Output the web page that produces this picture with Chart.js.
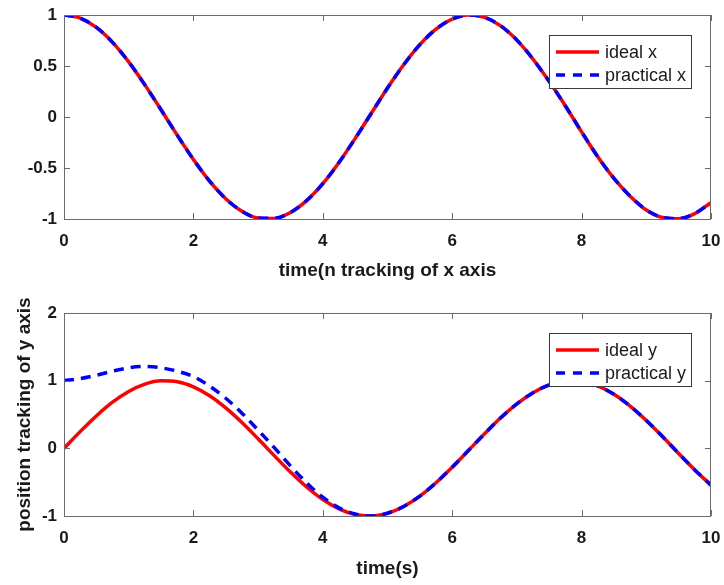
<!DOCTYPE html>
<html>
<head>
<meta charset="utf-8">
<script src="https://cdn.jsdelivr.net/npm/chart.js@4/dist/chart.umd.min.js"></script>
<style>
    html, body { margin: 0; padding: 0; background: #fff; }
    #wrap { position: relative; width: 724px; height: 585px; }
    canvas { position: absolute; left: 0; }
    #top-chart { top: 0; }
    #bottom-chart { top: 292px; }
</style>
</head>
<body>
<div id="wrap">
    <canvas id="top-chart" width="724" height="292"></canvas>
    <canvas id="bottom-chart" width="724" height="293"></canvas>
</div>
<script>
// time samples (s)
const timeVals = [0, 0.25, 0.5, 0.75, 1, 1.25, 1.5, 1.75, 2, 2.25, 2.5, 2.75, 3, 3.25, 3.5, 3.75, 4, 4.25, 4.5, 4.75,
    5, 5.25, 5.5, 5.75, 6, 6.25, 6.5, 6.75, 7, 7.25, 7.5, 7.75, 8, 8.25, 8.5, 8.75, 9, 9.25, 9.5, 9.75, 10];

const idealX = [1, 0.969, 0.878, 0.732, 0.540, 0.315, 0.071, -0.178, -0.416, -0.628, -0.801, -0.924, -0.990, -0.994,
    -0.936, -0.820, -0.654, -0.446, -0.211, 0.037, 0.284, 0.512, 0.709, 0.861, 0.960, 0.999, 0.977, 0.894, 0.754,
    0.566, 0.347, 0.108, -0.146, -0.390, -0.602, -0.776, -0.911, -0.985, -0.997, -0.947, -0.839];
const practicalX = [1, 0.969, 0.878, 0.732, 0.540, 0.315, 0.071, -0.178, -0.416, -0.628, -0.801, -0.924, -0.990, -0.994,
    -0.936, -0.820, -0.654, -0.446, -0.211, 0.037, 0.284, 0.512, 0.709, 0.861, 0.960, 0.999, 0.977, 0.894, 0.754,
    0.566, 0.347, 0.108, -0.146, -0.390, -0.602, -0.776, -0.911, -0.985, -0.997, -0.947, -0.839];

const idealY = [0, 0.247, 0.479, 0.682, 0.841, 0.949, 0.997, 0.984, 0.909, 0.778, 0.598, 0.382, 0.141, -0.108,
    -0.351, -0.572, -0.757, -0.895, -0.978, -0.999, -0.959, -0.859, -0.706, -0.508, -0.279, -0.033, 0.215, 0.451,
    0.657, 0.823, 0.938, 0.994, 0.989, 0.923, 0.798, 0.624, 0.412, 0.174, -0.075, -0.319, -0.544];
const practicalY = [1.00, 1.03, 1.08, 1.14, 1.19, 1.21, 1.19, 1.14, 1.06, 0.92, 0.74, 0.52, 0.27, 0.01,
    -0.26, -0.51, -0.72, -0.88, -0.97, -1.0, -0.959, -0.859, -0.706, -0.508, -0.279, -0.033, 0.215, 0.451,
    0.657, 0.823, 0.938, 0.994, 0.989, 0.923, 0.798, 0.624, 0.412, 0.174, -0.075, -0.319, -0.544];

const legendTop = ['ideal x', 'practical x'];
const legendBottom = ['ideal y', 'practical y'];

const RED = '#ff0000';
const BLUE = '#0000ff';
const DASH = [10, 7];
const BOX = '#6b6b6b';
const TXT = '#1a1a1a';

function points(ys) {
    return timeVals.map((t, i) => ({ x: t, y: ys[i] }));
}

// matlab style box with inward ticks + legend inside the axes
const boxPlugin = {
    id: 'box',
    afterDraw(chart, args, opts) {
        const ctx = chart.ctx;
        const a = chart.chartArea;
        const xs = chart.scales.x, ys = chart.scales.y;
        ctx.save();
        ctx.strokeStyle = BOX;
        ctx.lineWidth = 1;
        ctx.strokeRect(a.left + 0.5, a.top + 0.5, a.right - a.left - 1, a.bottom - a.top);
        ctx.beginPath();
        xs.ticks.forEach(t => {
            const px = Math.round(xs.getPixelForValue(t.value)) + 0.5;
            ctx.moveTo(px, a.bottom); ctx.lineTo(px, a.bottom - 6);
            ctx.moveTo(px, a.top); ctx.lineTo(px, a.top + 6);
        });
        ys.ticks.forEach(t => {
            const py = Math.round(ys.getPixelForValue(t.value)) + 0.5;
            ctx.moveTo(a.left, py); ctx.lineTo(a.left + 6, py);
            ctx.moveTo(a.right, py); ctx.lineTo(a.right - 6, py);
        });
        ctx.stroke();

        // legend
        const lx = a.right - 162, ly = a.top + 20, lw = 142, lh = 53;
        ctx.fillStyle = '#fff';
        ctx.fillRect(lx, ly, lw, lh);
        ctx.strokeStyle = '#3a3a3a';
        ctx.strokeRect(lx + 0.5, ly + 0.5, lw, lh);
        const labels = opts.labels;
        ctx.font = '18px "Liberation Sans", Arial, sans-serif';
        ctx.textBaseline = 'middle';
        ctx.lineWidth = 3.5;
        labels.forEach((lab, i) => {
            const ry = ly + 17 + i * 23;
            ctx.strokeStyle = i === 0 ? RED : BLUE;
            ctx.setLineDash(i === 0 ? [] : [9, 8]);
            ctx.beginPath();
            ctx.moveTo(lx + 7, ry); ctx.lineTo(lx + 50, ry);
            ctx.stroke();
            ctx.setLineDash([]);
            ctx.fillStyle = TXT;
            ctx.fillText(lab, lx + 56, ry + 1);
        });
        ctx.restore();
    }
};

function makeChart(canvasId, ideal, practical, cfg) {
    const ctx = document.getElementById(canvasId).getContext('2d');
    return new Chart(ctx, {
        type: 'line',
        data: {
            datasets: [
                { data: points(ideal), borderColor: RED, borderWidth: 3.5, pointRadius: 0, order: 2,
                  cubicInterpolationMode: 'monotone' },
                { data: points(practical), borderColor: BLUE, borderWidth: 3.5, borderDash: DASH, pointRadius: 0, order: 1,
                  cubicInterpolationMode: 'monotone' }
            ]
        },
        options: {
            responsive: false,
            animation: false,
            devicePixelRatio: 1,
            layout: { padding: { top: cfg.padTop, right: 13, left: 0, bottom: 0 } },
            plugins: {
                legend: { display: false },
                tooltip: { enabled: false },
                box: { labels: cfg.labels }
            },
            scales: {
                x: {
                    type: 'linear', min: 0, max: 10,
                    ticks: { stepSize: 2, color: TXT, padding: 12, maxRotation: 0,
                        font: { family: '"Liberation Sans", Arial', size: 17, weight: 'bold' } },
                    grid: { display: false, drawTicks: false },
                    border: { display: false },
                    title: { display: true, text: cfg.xTitle, color: TXT, padding: { top: 0, bottom: cfg.xTitlePad },
                        font: { family: '"Liberation Sans", Arial', size: 19, weight: 'bold', lineHeight: 1.2 } },
                    afterFit: s => { s.height = cfg.xHeight; s.paddingLeft = 0; s.paddingRight = 0; }
                },
                y: {
                    min: cfg.yMin, max: cfg.yMax,
                    ticks: { stepSize: cfg.yStep, color: TXT, padding: 7,
                        callback: v => String(Math.round(v * 10) / 10),
                        font: { family: '"Liberation Sans", Arial', size: 17, weight: 'bold' } },
                    grid: { display: false, drawTicks: false },
                    border: { display: false },
                    title: { display: !!cfg.yTitle, text: cfg.yTitle || '', color: TXT, padding: { top: 13, bottom: 0 },
                        font: { family: '"Liberation Sans", Arial', size: 19, weight: 'bold', lineHeight: 1.2 } },
                    afterFit: s => { s.width = 64; s.paddingTop = 0; s.paddingBottom = 0; }
                }
            }
        },
        plugins: [boxPlugin]
    });
}

makeChart('top-chart', idealX, practicalX, {
    padTop: 15, xHeight: 73, xTitlePad: 10, xTitle: 'time(n tracking of x axis',
    yMin: -1, yMax: 1, yStep: 0.5, labels: legendTop
});
makeChart('bottom-chart', idealY, practicalY, {
    padTop: 21, xHeight: 69, xTitlePad: 5, xTitle: 'time(s)',
    yMin: -1, yMax: 2, yStep: 1, yTitle: 'position tracking of y axis', labels: legendBottom
});
</script>
</body>
</html>
